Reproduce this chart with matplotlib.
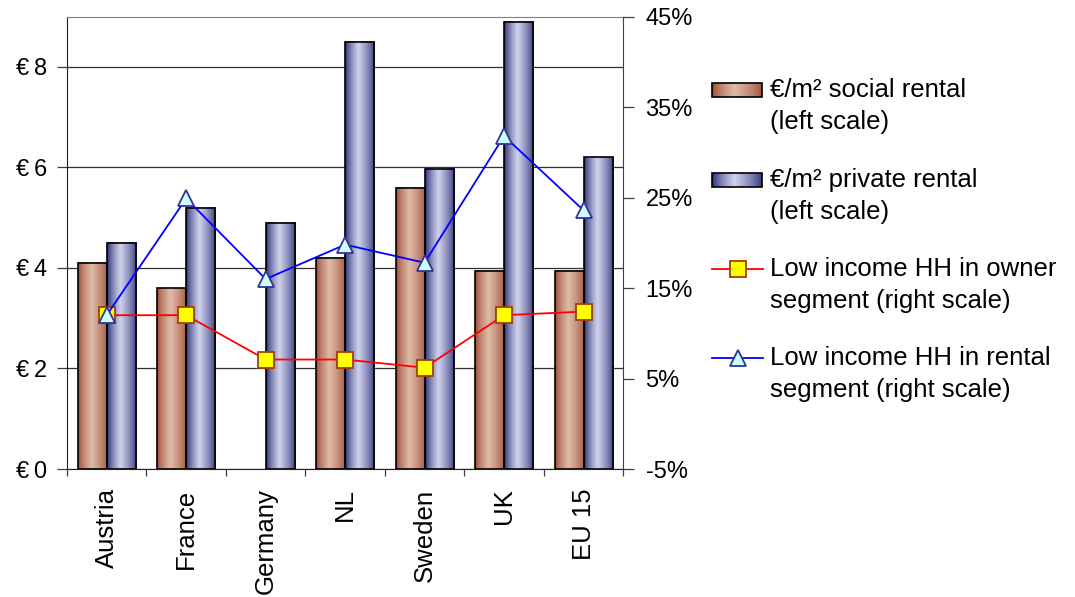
import numpy as np
import matplotlib
matplotlib.use("Agg")
import matplotlib.pyplot as plt
from matplotlib.lines import Line2D
from matplotlib.patches import Rectangle

plt.rcParams["font.family"] = ["Liberation Sans", "DejaVu Sans"]
FS = 17
FS_BIG = 18.5

countries = ["Austria", "France", "Germany", "NL", "Sweden", "UK", "EU 15"]
social_rent = [4.1, 3.6, 0.0, 4.2, 5.6, 3.94, 3.94]
private_rent = [4.5, 5.2, 4.9, 8.5, 5.97, 8.9, 6.2]
owner_low_inc = [12.0, 12.0, 7.1, 7.1, 6.2, 12.0, 12.4]
rental_low_inc = [12.0, 24.9, 16.0, 19.8, 17.8, 31.8, 23.6]

left_ticks = [0, 2, 4, 6, 8]
right_ticks = [-5, 5, 15, 25, 35, 45]

SOC_DARK, SOC_LIGHT = "#9a4530", "#dfbba8"
PRI_DARK, PRI_LIGHT = "#20246c", "#cfd2ec"


def gradient(dark, light, n=64):
    d = np.array(matplotlib.colors.to_rgb(dark))
    l = np.array(matplotlib.colors.to_rgb(light))
    u = np.linspace(0, 1, n)
    t = np.interp(u, [0, 0.45, 1], [0, 1, 0.05]) ** 0.7
    return (d[None, :] * (1 - t[:, None]) + l[None, :] * t[:, None])[None, :, :]


def grad_bars(ax, bars, dark, light):
    img = gradient(dark, light)
    for b in bars:
        h = b.get_height()
        if h <= 0:
            continue
        x0 = b.get_x()
        ax.imshow(img, extent=[x0, x0 + b.get_width(), 0, h], aspect="auto",
                  interpolation="bilinear", zorder=2)


fig = plt.figure(figsize=(10.75, 5.97), dpi=100)
ax = fig.add_axes([0.0623, 0.2144, 0.5175, 0.7577])

x = np.arange(len(countries))
w = 0.365
b1 = ax.bar(x - w / 2, social_rent, w, facecolor="none", edgecolor="black", lw=1.2, zorder=3)
b2 = ax.bar(x + w / 2, private_rent, w, facecolor="none", edgecolor="black", lw=1.2, zorder=3)
for b, v in zip(b1, social_rent):
    if v <= 0:
        b.set_visible(False)
grad_bars(ax, b1, SOC_DARK, SOC_LIGHT)
grad_bars(ax, b2, PRI_DARK, PRI_LIGHT)

ax.set_xlim(-0.5, len(countries) - 0.5)
ax.set_ylim(0, 9)
ax.set_yticks(left_ticks)
ax.set_yticklabels([f"€\u2009{v}" for v in left_ticks], fontsize=FS)
ax.yaxis.grid(True, color="#303030", lw=0.9)
ax.set_axisbelow(True)
ax.set_xticks(np.arange(len(countries) + 1) - 0.5)
ax.set_xticklabels([])
ax.set_xticks(x, minor=True)
ax.set_xticklabels(countries, minor=True, rotation=90, fontsize=FS_BIG, va="top")
ax.tick_params(axis="x", which="minor", length=0, pad=14)
ax.tick_params(axis="x", which="major", length=5, width=0.9, color="#404040")
ax.tick_params(axis="y", length=7, width=0.9, pad=7, color="#404040")
ax.spines["top"].set_color("#808080")
ax.spines["right"].set_visible(False)
ax.spines["left"].set_color("#202020")
ax.spines["bottom"].set_color("#202020")

ax2 = ax.twinx()
ax2.set_ylim(-5, 45)
ax2.set_yticks(right_ticks)
ax2.set_yticklabels([f"{v}%" for v in right_ticks], fontsize=FS)
ax2.tick_params(axis="y", length=8, width=0.9, pad=8, color="#404040")
for s in ["top", "left", "bottom"]:
    ax2.spines[s].set_visible(False)
ax2.spines["right"].set_color("#404040")

sq = dict(marker="s", markersize=11, markerfacecolor="#ffff00", markeredgecolor="#a0400a", markeredgewidth=1.3)
tri = dict(marker="^", markersize=12, markerfacecolor="#ccffff", markeredgecolor="#333399", markeredgewidth=1.3)
ax2.plot(x, owner_low_inc, color="#ff0000", lw=1.3, zorder=5, **sq)
ax2.plot(x, rental_low_inc, color="#0000ff", lw=1.3, zorder=5, **tri)

# legend, drawn by hand in pixel coordinates
lg = fig.add_axes([0, 0, 1, 1], facecolor="none")
lg.axis("off")
entries = [
    ("bar", SOC_DARK, SOC_LIGHT, ["€/m² social rental", "(left scale)"], 90),
    ("bar", PRI_DARK, PRI_LIGHT, ["€/m² private rental", "(left scale)"], 180),
    ("line", "#ff0000", sq, ["Low income HH in owner", "segment (right scale)"], 269),
    ("line", "#0000ff", tri, ["Low income HH in rental", "segment (right scale)"], 358),
]
for kind, c1, c2, lines, yc in entries:
    if kind == "bar":
        lg.imshow(gradient(c1, c2), extent=[712, 762, yc + 7, yc - 7], aspect="auto",
                  interpolation="bilinear", zorder=2)
        lg.add_patch(Rectangle((712, yc - 7), 50, 14, fill=False, ec="black", lw=1.2, zorder=3))
    else:
        lg.add_line(Line2D([712, 763], [yc, yc], color=c1, lw=1.3))
        lg.add_line(Line2D([737.5], [yc], **c2))
    for i, txt in enumerate(lines):
        lg.text(770, yc + 32 * i, txt, fontsize=FS_BIG, va="center", ha="left")
lg.set_xlim(0, 1075)
lg.set_ylim(597, 0)

fig.savefig("out.png", dpi=100, facecolor="white")
